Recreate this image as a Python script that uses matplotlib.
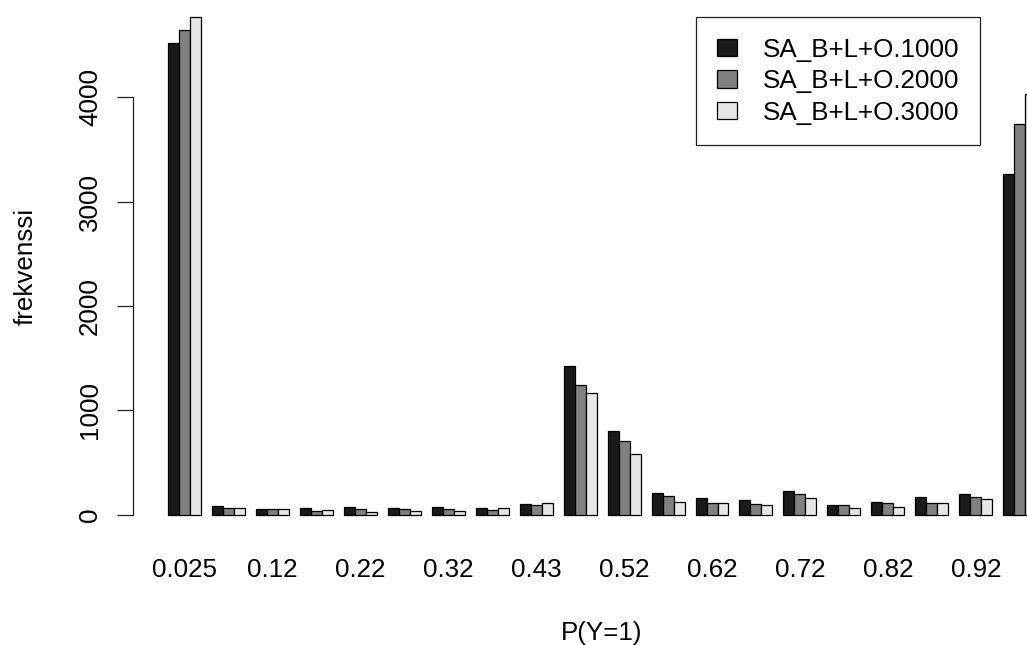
import numpy as np
import matplotlib
matplotlib.use("Agg")
import matplotlib.pyplot as plt

# ---- data ----
bin_labels = ["0.025", "0.075", "0.12", "0.17", "0.22", "0.28", "0.32", "0.38", "0.43", "0.48",
              "0.52", "0.57", "0.62", "0.68", "0.72", "0.78", "0.82", "0.88", "0.92", "0.98"]
series_names = ["SA_B+L+O.1000", "SA_B+L+O.2000", "SA_B+L+O.3000"]
s1000 = [4518, 83, 58, 67, 71, 64, 71, 61, 103, 1425, 799, 211, 157, 138, 230, 96, 119, 167, 195, 3261]
s2000 = [4640, 64, 58, 32, 58, 55, 52, 45, 96, 1246, 706, 176, 112, 100, 195, 96, 112, 112, 167, 3747]
s3000 = [4770, 61, 58, 42, 26, 38, 38, 67, 109, 1166, 582, 125, 112, 90, 163, 67, 71, 112, 147, 4029]
y_ticks = [0, 1000, 2000, 3000, 4000]
colors = ["#1a1a1a", "#808080", "#e6e6e6"]

plt.rcParams['font.family'] = ['Liberation Sans', 'DejaVu Sans']
FS = 18.7

W, H = 1027, 645
fig = plt.figure(figsize=(W / 100, H / 100), dpi=100)

# R barplot geometry (beside=TRUE, space=c(0,1))
ngroups = len(bin_labels)
nser = 3
group_left = 1 + (nser + 1) * np.arange(ngroups)
xmin_d, xmax_d = 1, group_left[-1] + nser
ext = 0.04 * (xmax_d - xmin_d)
xlim = (xmin_d - ext, xmax_d + ext)
ymax = max(max(s1000), max(s2000), max(s3000))
ylim = (-0.04 * ymax, 1.04 * ymax)

ppu = 10.99  # pixels per bar unit
ax_left_px = 168 - (1 - xlim[0]) * ppu
ax_w_px = (xlim[1] - xlim[0]) * ppu
ax_bottom_px = 534.6
ax_top_px = -3.0
ax = fig.add_axes([ax_left_px / W, 1 - ax_bottom_px / H, ax_w_px / W, (ax_bottom_px - ax_top_px) / H])
ax.set_xlim(*xlim)
ax.set_ylim(*ylim)

for j, (vals, name) in enumerate(zip([s1000, s2000, s3000], series_names)):
    ax.bar(group_left + j + 0.5, vals, width=1.0, color=colors[j], edgecolor="black",
           linewidth=0.9, label=name, zorder=2)

for s in ["top", "right", "bottom"]:
    ax.spines[s].set_visible(False)
ax.spines["left"].set_bounds(0, 4000)
ax.spines["left"].set_linewidth(0.9)
ax.spines["left"].set_color("#222222")

ax.set_yticks(y_ticks)
ax.set_yticklabels([str(v) for v in y_ticks])
ax.tick_params(axis="y", length=11.5, width=0.9, color="#222222", pad=14.6, labelsize=FS)
for lab in ax.get_yticklabels():
    lab.set_rotation(90)
    lab.set_rotation_mode("anchor")
    lab.set_ha("center")
    lab.set_va("baseline")

centers = group_left + nser / 2
ax.set_xticks(centers[::2])
ax.set_xticklabels(bin_labels[::2])
ax.tick_params(axis="x", length=0, pad=30.7, labelsize=FS)
for lab in ax.get_xticklabels():
    lab.set_va("baseline")

# axis titles
fig.text(602 / W, 1 - 640 / H, "P(Y=1)", ha="center", va="baseline", fontsize=FS)
fig.text(33 / W, 1 - 266 / H, "frekvenssi", rotation=90, rotation_mode="anchor",
         ha="center", va="baseline", fontsize=FS)

leg = ax.legend(loc="upper left", bbox_to_anchor=(696 / W, 1 - 17 / H),
                bbox_transform=fig.transFigure, fontsize=FS, frameon=True, fancybox=False,
                shadow=False, borderpad=0.79, handlelength=0.8, handleheight=0.64,
                handletextpad=1.0, labelspacing=0.29, borderaxespad=0)
leg.get_frame().set_edgecolor("#222222")
leg.get_frame().set_linewidth(0.9)
leg.get_frame().set_alpha(None)

fig.savefig("out.png", dpi=100)
